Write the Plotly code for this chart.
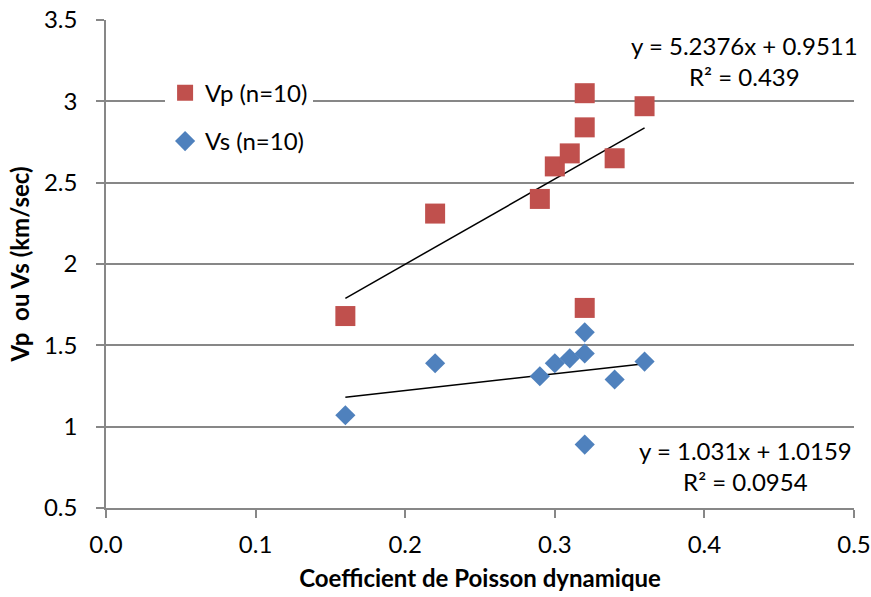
import plotly.graph_objects as go

# Coefficient de Poisson dynamique (x) vs wave velocities (km/sec)
nu = [0.16, 0.22, 0.29, 0.30, 0.31, 0.32, 0.32, 0.32, 0.34, 0.36]
vp = [1.68, 2.31, 2.40, 2.60, 2.68, 3.05, 2.84, 1.73, 2.65, 2.97]
nu_s = [0.16, 0.22, 0.29, 0.30, 0.31, 0.32, 0.32, 0.32, 0.34, 0.36]
vs = [1.07, 1.39, 1.31, 1.39, 1.42, 1.58, 1.45, 0.89, 1.29, 1.40]

# Linear trendline coefficients (slope, intercept, R²)
vp_fit = (5.2376, 0.9511, 0.439)
vs_fit = (1.031, 1.0159, 0.0954)

x_ticks = [0.0, 0.1, 0.2, 0.3, 0.4, 0.5]
y_ticks = [0.5, 1, 1.5, 2, 2.5, 3, 3.5]

FONT = "Lato"
RED = "#C0504D"
BLUE = "#4F81BD"
GRID = "#878787"


def trend(xs, fit):
    lo, hi = min(xs), max(xs)
    return [lo, hi], [fit[0] * lo + fit[1], fit[0] * hi + fit[1]]


fig = go.Figure()

tx, ty = trend(nu, vp_fit)
fig.add_trace(go.Scatter(x=tx, y=ty, mode="lines", line=dict(color="black", width=1.5),
                         showlegend=False, hoverinfo="skip"))
tx, ty = trend(nu_s, vs_fit)
fig.add_trace(go.Scatter(x=tx, y=ty, mode="lines", line=dict(color="black", width=1.5),
                         showlegend=False, hoverinfo="skip"))

fig.add_trace(go.Scatter(x=nu, y=vp, mode="markers", name="Vp (n=10)", legendgroup="vp",
                         marker=dict(symbol="square", size=20, color=RED, line=dict(width=0))))
fig.add_trace(go.Scatter(x=nu_s, y=vs, mode="markers", name="Vs (n=10)", legendgroup="vs",
                         marker=dict(symbol="diamond", size=15.5, color=BLUE, line=dict(width=0))))

fig.add_annotation(x=0.4265, y=3.245, xref="x", yref="y",
                   text=f"y = {vp_fit[0]}x + {vp_fit[1]}<br>R² = {vp_fit[2]}",
                   showarrow=False, align="center", font=dict(family=FONT, size=24, color="black"))
fig.add_annotation(x=0.4275, y=0.756, xref="x", yref="y",
                   text=f"y = {vs_fit[0]}x + {vs_fit[1]}<br>R² = {vs_fit[2]}",
                   showarrow=False, align="center", font=dict(family=FONT, size=24, color="black"))

fig.update_layout(
    width=871, height=597,
    margin=dict(l=106, r=17, t=20, b=89),
    paper_bgcolor="white", plot_bgcolor="white",
    font=dict(family=FONT, size=24, color="black"),
    legend=dict(x=0.079, y=0.896, xanchor="left", yanchor="top", bgcolor="white",
                traceorder="grouped", tracegroupgap=14, font=dict(size=24),
                itemwidth=30),
    xaxis=dict(range=[0, 0.5], tickvals=x_ticks, tickformat=".1f", automargin=False,
               showgrid=False, zeroline=False, showline=True, linecolor=GRID, linewidth=1.5,
               ticks="outside", ticklen=8, tickcolor=GRID, tickwidth=1.5,
               tickfont=dict(size=24), ticklabelstandoff=6,
               title=dict(text="<b>Coefficient de Poisson dynamique</b>", font=dict(size=24), standoff=14)),
    yaxis=dict(range=[0.5, 3.5], tickvals=y_ticks, automargin=False,
               showgrid=True, gridcolor=GRID, gridwidth=1.5, zeroline=False,
               showline=True, linecolor=GRID, linewidth=1.5,
               ticks="outside", ticklen=8, tickcolor=GRID, tickwidth=1.5,
               tickfont=dict(size=24), ticklabelstandoff=14,
               title=dict(text="<b>Vp  ou Vs (km/sec)</b>", font=dict(size=24), standoff=8)),
)

fig.write_html("out.html")
